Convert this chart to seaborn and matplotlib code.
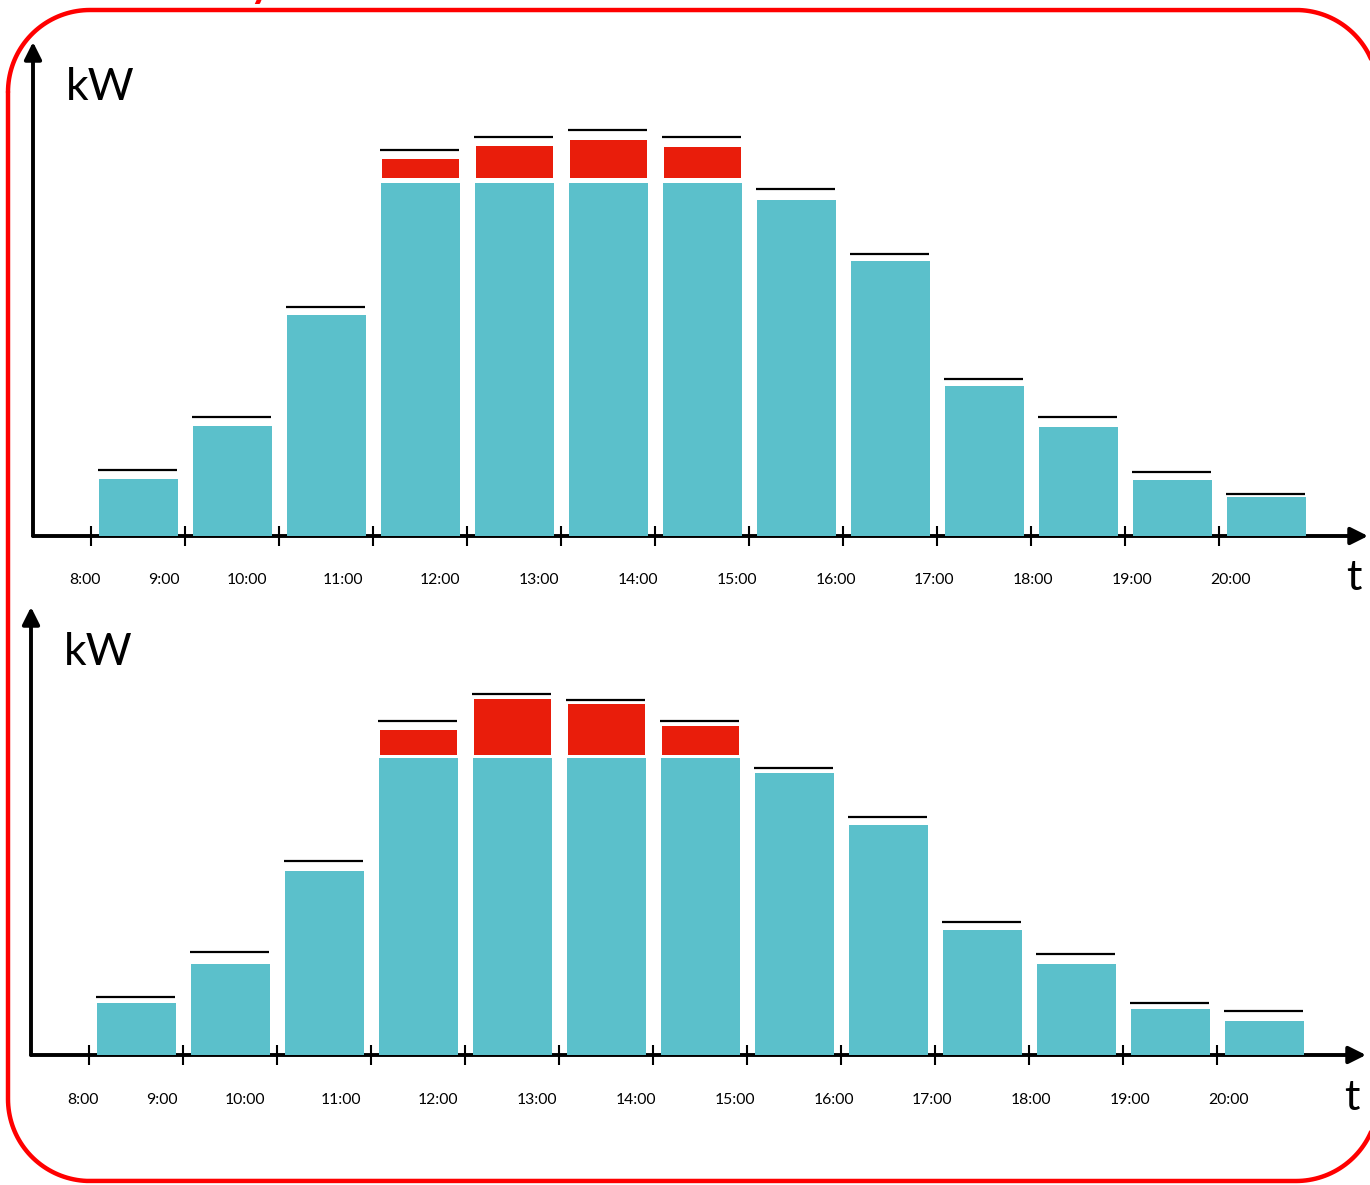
import numpy as np
import pandas as pd
import matplotlib
matplotlib.use("Agg")
import matplotlib.pyplot as plt
import seaborn as sns
from matplotlib.lines import Line2D

# ---------------- data ----------------
slots = ["8-9", "9-10", "10-11", "11-12", "12-13", "13-14", "14-15",
         "15-16", "16-17", "17-18", "18-19", "19-20", "20-21"]
hour_labels = ["8:00", "9:00", "10:00", "11:00", "12:00", "13:00", "14:00",
               "15:00", "16:00", "17:00", "18:00", "19:00", "20:00"]

# upper panel
base_top = [57, 110, 221, 353, 353, 353, 353, 336, 275, 150, 109, 56, 39]
excess_top = [0, 0, 0, 19, 32, 38, 31, 0, 0, 0, 0, 0, 0]
cap_top = [66, 119, 229, 386, 399, 406, 399, 347, 282, 157, 119, 64, 42]

# lower panel
base_bot = [52, 91, 184, 297, 297, 297, 297, 282, 230, 125, 91, 46, 34]
excess_bot = [0, 0, 0, 25, 56, 51, 29, 0, 0, 0, 0, 0, 0]
cap_bot = [58, 103, 194, 334, 361, 355, 334, 287, 238, 133, 101, 52, 44]

# ---------------- style ----------------
CYAN = "#5BC0CB"
RED = "#E91D0B"
W, H = 1370, 1185

sns.set_style("white")
plt.rcParams["font.family"] = ["Lato", "DejaVu Sans"]
plt.rcParams["text.color"] = "black"
plt.rcParams["xtick.color"] = "black"
plt.rcParams["xtick.labelcolor"] = "black"

fig = plt.figure(figsize=(W / 100, H / 100), dpi=100)

label_pos = [-0.57, 0.27, 1.15, 2.18, 3.21, 4.26, 5.31, 6.37, 7.42, 8.46, 9.52, 10.57, 11.62]


def px_axes(left, right, top, bottom):
    return fig.add_axes([left / W, 1 - bottom / H, (right - left) / W, (bottom - top) / H])


def panel(ax, base, excess, cap, gap, ymax):
    df = pd.DataFrame({"slot": slots, "kw": base})
    sns.barplot(data=df, x="slot", y="kw", color=CYAN, saturation=1, width=0.84,
                linewidth=0, edgecolor="none", zorder=3, ax=ax)
    x = np.arange(len(slots))
    base_a = np.asarray(base, dtype=float)
    exc = np.asarray(excess, dtype=float)
    m = exc > 0
    ax.bar(x[m], exc[m], bottom=base_a[m] + gap, width=0.82, color=RED,
           linewidth=0, zorder=3)
    ax.hlines(cap, x - 0.43, x + 0.41, color="black", lw=1.6, zorder=4)

    ax.set_xlim(-1.122, 13.08)
    ax.set_ylim(0, ymax)
    for s in ax.spines.values():
        s.set_visible(False)
    ax.set_xlabel("")
    ax.set_ylabel("")
    ax.set_yticks([])
    ax.set_xticks(label_pos)
    ax.set_xticklabels(hour_labels)
    ax.set_xticks(np.arange(len(slots)) - 0.51, minor=True)
    ax.tick_params(axis="x", which="major", length=0, pad=27, labelsize=11.3,
                   labelcolor="black")
    ax.tick_params(axis="x", which="minor", direction="inout", length=15,
                   width=1.5, color="black", bottom=True)
    ax.patch.set_alpha(0)

    arrow = dict(arrowstyle="-|>", lw=2.8, color="black", mutation_scale=26,
                 shrinkA=0, shrinkB=0)
    ax.annotate("", xy=(1, 0), xytext=(0, 0), xycoords="axes fraction",
                arrowprops=arrow, zorder=1)
    ax.annotate("", xy=(0, 1), xytext=(0, 0), xycoords="axes fraction",
                arrowprops=arrow, zorder=1)


ax1 = px_axes(33, 1368, 42, 536)
panel(ax1, base_top, excess_top, cap_top, 5, 536 - 42)
ax2 = px_axes(31, 1366, 607, 1055)
panel(ax2, base_bot, excess_bot, cap_bot, 3, 1055 - 607)

# axis titles
fig.text(66 / W, 1 - 100 / H, "kW", fontsize=32, va="baseline", ha="left")
fig.text(64 / W, 1 - 665 / H, "kW", fontsize=32, va="baseline", ha="left")
fig.text(1346 / W, 1 - 590 / H, "t", fontsize=31, va="baseline", ha="left")
fig.text(1344 / W, 1 - 1110 / H, "t", fontsize=31, va="baseline", ha="left")

# partially visible red heading above the frame
fig.text(250 / W, 1 + 3 / H, "y", fontsize=30, color="#FF0000",
         fontweight="bold", va="baseline", ha="left")

# red rounded frame (pixel geometry, drawn as a polyline)
x0, x1, y0, y1, r = 8, 1378, 10, 1181, 82
t = np.linspace(0, np.pi / 2, 40)
pts = []
pts += list(zip(x0 + r - r * np.cos(t), y0 + r - r * np.sin(t)))
pts += list(zip(x1 - r + r * np.sin(t), y0 + r - r * np.cos(t)))
pts += list(zip(x1 - r + r * np.cos(t), y1 - r + r * np.sin(t)))
pts += list(zip(x0 + r - r * np.sin(t), y1 - r + r * np.cos(t)))
pts.append(pts[0])
fx = [p[0] / W for p in pts]
fy = [1 - p[1] / H for p in pts]
fig.add_artist(Line2D(fx, fy, transform=fig.transFigure, color="#FF0000",
                      lw=3.2, solid_joinstyle="round", zorder=10))

fig.savefig("out.png", dpi=100)
